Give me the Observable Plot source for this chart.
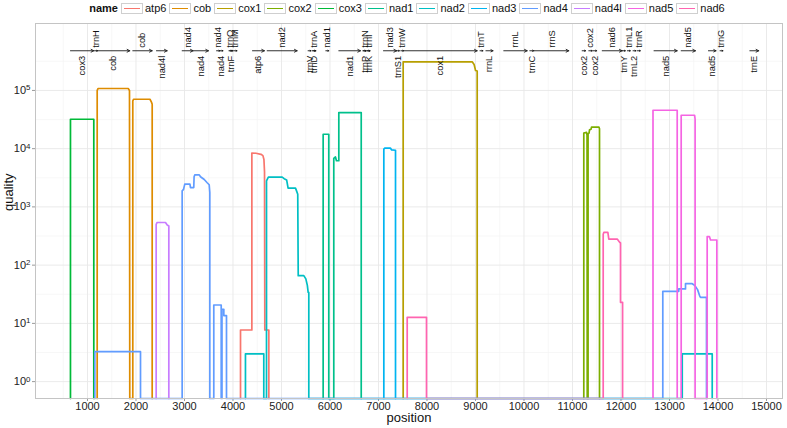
<!DOCTYPE html>
<html><head><meta charset="utf-8">
<script src="https://cdn.jsdelivr.net/npm/d3@7"></script>
<script src="https://cdn.jsdelivr.net/npm/@observablehq/plot@0.6"></script>
<style>
body{margin:0;background:#fff;font-family:"Liberation Sans",Arial,Helvetica,sans-serif;}
#legend{height:16px;width:787px;box-sizing:border-box;padding:0 5px 0 35px;display:flex;justify-content:center;align-items:center;font-size:11px;color:#111;white-space:nowrap}
#legend b{margin-right:3px}
.key{width:22px;height:11px;border:1px solid #cfcfcf;box-sizing:border-box;position:relative;margin:0 2px 0 0;background:#fff}
.key i{position:absolute;left:2px;right:2px;top:4px;height:1.6px}
.lab{margin-right:3px}
</style></head>
<body><div id="legend"></div><div id="chart"></div>
<script>
// ---- series (position, quality); 0 = no coverage, drawn on the bottom edge ----
const seriesNames = ["atp6","cob","cox1","cox2","cox3","nad1","nad2","nad3","nad4","nad4l","nad5","nad6"];
const seriesColors = ["#F8766D","#DE8C00","#B79F00","#7CAE00","#00BA38","#00C08B","#00BFC4","#00B4F0","#619CFF","#C77CFF","#F564E3","#FF64B0"];

const atp6 = [[4155,0],[4155,7.7],[4389,7.7],[4389,8400],[4475,8350],[4577,8000],[4617,7600],[4638,6500],[4650,4000],[4656,7.7],[4739,7.7],[4739,0]];
const cob = [[1200,0],[1200,1.0e5],[1220,1.08e5],[1840,1.08e5],[1866,1.0e5],[1872,0],[1934,0],[1934,6.6e4],[1952,7.06e4],[2288,7.06e4],[2319,6.3e4],[2334,5.8e4],[2334,0]];
const cox1 = [[7509,0],[7509,3.1e5],[8932,3.1e5],[8971,2.8e5],[9001,2.2e5],[9035,2.15e5],[9035,0]];
const cox2 = [[11233,0],[11233,1.85e4],[11290,1.9e4],[11300,1.7e4],[11304,0],[11321,0],[11321,1.8e4],[11341,1.85e4],[11351,2.1e4],[11382,2.15e4],[11392,2.35e4],[11545,2.35e4],[11557,2.2e4],[11557,0]];
const cox3 = [[649,0],[649,3.2e4],[1130,3.2e4],[1130,0]];
const nad1 = [[5859,0],[5859,1.77e4],[5975,1.77e4],[5975,0],[6078,0],[6078,6800],[6113,7200],[6133,6200],[6182,6200],[6182,4.16e4],[6644,4.16e4],[6644,0]];
const nad2 = [[4257,0],[4257,3],[4635,3],[4635,0],[4691,0],[4691,2800],[4729,3250],[5014,3250],[5055,3050],[5106,2900],[5136,2100],[5289,2100],[5314,1850],[5335,1650],[5345,66],[5460,66],[5502,58],[5533,45],[5550,34],[5563,34],[5563,0],[13263,0],[13263,3],[13881,3],[13881,0]];
const nad3 = [[7110,0],[7110,9800],[7130,10200],[7248,10200],[7272,9500],[7351,9400],[7351,0]];
const nad4 = [[1151,0],[1151,3.27],[2093,3.27],[2093,0],[2952,0],[2952,1890],[2980,2000],[3006,2460],[3112,2460],[3124,2150],[3191,2150],[3198,3300],[3213,3550],[3305,3550],[3330,3300],[3407,2950],[3468,2600],[3509,2400],[3522,1770],[3522,0],[3604,0],[3604,20.7],[3757,20.7],[3757,0],[3773,0],[3773,17.5],[3811,17.5],[3811,13.6],[3866,13.6],[3866,0],[12862,0],[12862,35.5],[13191,35.5],[13191,39],[13330,39],[13330,48],[13468,48],[13518,45],[13579,38],[13620,30],[13639,28],[13763,28],[13763,0]];
const nad4l = [[2416,0],[2416,500],[2436,540],[2608,540],[2644,490],[2677,470],[2677,0]];
const nad5 = [[12660,0],[12660,4.57e4],[13159,4.57e4],[13159,0],[13241,0],[13241,3.75e4],[13518,3.75e4],[13528,3.2e4],[13528,0],[13777,0],[13777,310],[13823,310],[13846,270],[13976,270],[13976,0]];
const nad6 = [[7592,0],[7592,12.7],[7990,12.7],[7990,0],[11633,0],[11633,340],[11646,364],[11729,364],[11749,280],[11922,280],[11976,245],[11990,240],[11990,23],[12033,23],[12033,0]];
const seriesData = [atp6,cob,cox1,cox2,cox3,nad1,nad2,nad3,nad4,nad4l,nad5,nad6];

// ---- gene annotation track ----
const featNames = ["cox3","trnH","cob","cob","nad4l","nad4","nad4","nad4","nad4","trnQ","trnF","trnM","atp6","nad2","trnV","trnA","trnD","nad1","nad1","trnP","trnN","trnK","trnI","nad3","trnS1","trnW","cox1","trnT","rrnL","rrnL","trnC","rrnS","cox2","cox2","cox2","nad6","trnY","trnL1","trnL2","trnR","nad5","nad5","nad5","trnG","trnE"];
const featStart = [649,1145,1200,1934,2422,2952,3191,3661,3732,3916,3936,4017,4402,4705,5548,5635,5650,5914,6182,6682,6682,6764,6764,7103,7374,7460,7517,9093,9215,9583,10120,10212,11199,11336,11428,11613,12028,12131,12248,12337,12681,13241,13803,14042,14657];
const featEnd = [1130,1206,1872,2334,2643,3179,3494,3732,3794,3977,4002,4083,4648,5323,5609,5696,5711,5975,6628,6743,6743,6825,6825,7374,7431,7517,9035,9154,9362,10066,10202,10924,11270,11407,11499,12023,12089,12192,12309,12398,13159,13536,13960,14103,14840];
const featSide = ["below","above","below","above","below","above","below","above","below","above","below","above","below","above","below","above","below","above","below","below","above","below","above","above","below","above","below","above","below","above","below","above","below","above","below","above","below","above","below","above","below","above","below","above","below"];
const annotY = 4.8e5;

// ---- axes ----
const xTicks = [1000,2000,3000,4000,5000,6000,7000,8000,9000,10000,11000,12000,13000,14000,15000];
const xMinor = [500,1500,2500,3500,4500,5500,6500,7500,8500,9500,10500,11500,12500,13500,14500];
const yTicks = [1,10,100,1000,10000,100000];
const yMinor = [3.162,31.62,316.2,3162,31620,316200];
const xDomain = [-72,15330];
const yDomain = [0.513,1.41e6];

// legend
const leg = document.getElementById("legend");
leg.innerHTML = "<b>name</b>" + seriesNames.map((n,i)=>`<span class="key"><i style="background:${seriesColors[i]}"></i></span><span class="lab">${n}</span>`).join("");

const rows = [];
seriesNames.forEach((n,i)=>{ for (const [p,q] of seriesData[i]) rows.push({name:n, position:p, quality: q === 0 ? yDomain[0] : q}); });
const feats = featNames.map((n,i)=>({name:n, x1:featStart[i], x2:featEnd[i], mid:(featStart[i]+featEnd[i])/2, side:featSide[i], y:annotY}));

const chart = Plot.plot({
  width: 787, height: 412,
  marginLeft: 35, marginRight: 5, marginTop: 7, marginBottom: 30,
  style: {fontSize:"11px", fontFamily:'"Liberation Sans",Arial,Helvetica,sans-serif', color:"#222", background:"white"},
  x: {domain:xDomain, ticks:xTicks, tickSize:3, tickPadding:1, tickFormat:d=>String(d), label:null},
  y: {type:"log", domain:yDomain, ticks:yTicks, tickSize:3, tickPadding:2, tickFormat:d=>"10^"+Math.round(Math.log10(d)), label:null},
  color: {domain:seriesNames, range:seriesColors},
  marks: [
    Plot.ruleX(xMinor, {stroke:"#f3f3f3", strokeWidth:0.7}),
    Plot.ruleY(yMinor, {stroke:"#f3f3f3", strokeWidth:0.7}),
    Plot.ruleX(xTicks, {stroke:"#e8e8e8", strokeWidth:0.9}),
    Plot.ruleY(yTicks, {stroke:"#e8e8e8", strokeWidth:0.9}),
    Plot.line(rows, {x:"position", y:"quality", z:"name", stroke:"name", strokeWidth:1.7, strokeLinejoin:"round", curve:"linear"}),
    Plot.arrow(feats, {x1:"x1", x2:"x2", y1:"y", y2:"y", stroke:"#1a1a1a", strokeWidth:0.9, headLength:5, headAngle:55}),
    Plot.text(feats.filter(d=>d.side==="above"), {x:"mid", y:"y", text:"name", rotate:-90, textAnchor:"start", dy:-3, fontSize:9.3, fill:"#111"}),
    Plot.text(feats.filter(d=>d.side==="below"), {x:"mid", y:"y", text:"name", rotate:-90, textAnchor:"end", dy:5, fontSize:9.3, fill:"#111"}),
    Plot.frame({stroke:"#c4c4c4"}),
    Plot.text(["position"], {frameAnchor:"bottom", dy:23, fontSize:13, fill:"#111"}),
    Plot.text(["quality"], {frameAnchor:"left", dx:-27, rotate:-90, fontSize:13, fill:"#111"})
  ]
});
document.getElementById("chart").appendChild(chart);

// superscript exponents on the log axis
d3.select(chart).selectAll("text").each(function(){
  const t = this.textContent, m = /^10\^(-?\d+)$/.exec(t);
  if (!m) return;
  const s = d3.select(this); s.text("10");
  s.append("tspan").attr("dy","-0.45em").attr("font-size","0.72em").text(m[1]);
});
// lighter tick marks
d3.select(chart).selectAll('g[aria-label$="tick"] path, g[aria-label$="tick"] line').attr("stroke","#9a9a9a");
</script></body></html>
